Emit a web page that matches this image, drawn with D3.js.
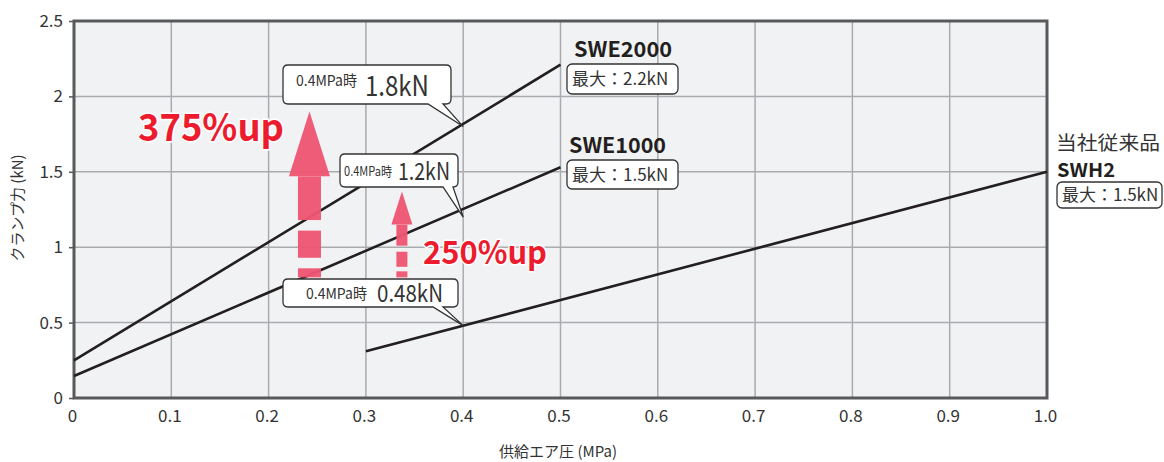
<!DOCTYPE html>
<html>
<head>
<meta charset="utf-8">
<script src="https://cdn.jsdelivr.net/npm/d3@7"></script>
<style>
  body { margin: 0; background: #fff; }
  svg text { font-family: "Noto Sans CJK JP", sans-serif; fill: #333; }
</style>
</head>
<body>
<svg id="chart"></svg>
<script>
// data
var xTicks = [0, 0.1, 0.2, 0.3, 0.4, 0.5, 0.6, 0.7, 0.8, 0.9, 1.0];
var xTickLabels = ["0", "0.1", "0.2", "0.3", "0.4", "0.5", "0.6", "0.7", "0.8", "0.9", "1.0"];
var yTicks = [0, 0.5, 1, 1.5, 2, 2.5];
var yTickLabels = ["0", "0.5", "1", "1.5", "2", "2.5"];

var seriesNames = ["SWE2000", "SWE1000", "SWH2"];
var swe2000 = [[0, 0.25], [0.5, 2.21]];
var swe1000 = [[0, 0.146], [0.5, 1.53]];
var swh2    = [[0.3, 0.31], [1.0, 1.5]];
var maxLabels = ["最大：2.2kN", "最大：1.5kN", "最大：1.5kN"];

var calloutPressure = 0.4;
var calloutValues = [1.8, 1.2, 0.48];
var calloutLabels = ["1.8kN", "1.2kN", "0.48kN"];

var upLabels = ["375%up", "250%up"];

// layout
var width = 1164, height = 462;
var svg = d3.select("#chart").attr("width", width).attr("height", height);

var x = d3.scaleLinear().domain([0, 1]).range([74, 1047]);
var y = d3.scaleLinear().domain([0, 2.5]).range([398, 21]);

// plot background
svg.append("rect")
  .attr("x", x(0)).attr("y", y(2.5))
  .attr("width", x(1) - x(0)).attr("height", y(0) - y(2.5))
  .attr("fill", "#f1f2f4");

// grid
var grid = svg.append("g").attr("stroke", "#a9abae").attr("stroke-width", 1.5);
grid.selectAll(".vg").data(xTicks.slice(1, -1)).enter().append("line")
  .attr("x1", function (d) { return x(d); }).attr("x2", function (d) { return x(d); })
  .attr("y1", y(0)).attr("y2", y(2.5));
grid.selectAll(".hg").data(yTicks.slice(1, -1)).enter().append("line")
  .attr("y1", function (d) { return y(d); }).attr("y2", function (d) { return y(d); })
  .attr("x1", x(0)).attr("x2", x(1));

// axes
var xAxisG = svg.append("g").attr("transform", "translate(-2," + y(0) + ")")
  .call(d3.axisBottom(x).tickValues(xTicks).tickSize(0).tickPadding(12)
    .tickFormat(function (d, i) { return xTickLabels[i]; }));
var yAxisG = svg.append("g").attr("transform", "translate(" + x(0) + ",0)")
  .call(d3.axisLeft(y).tickValues(yTicks).tickSize(5).tickPadding(6)
    .tickFormat(function (d, i) { return yTickLabels[i]; }));
[xAxisG, yAxisG].forEach(function (g) {
  g.select(".domain").remove();
  g.selectAll("text").style("font-size", "17px").attr("fill", "#333");
  g.selectAll("line").attr("stroke", "#555").attr("stroke-width", 1.5);
});

// frame
svg.append("rect")
  .attr("x", x(0)).attr("y", y(2.5))
  .attr("width", x(1) - x(0)).attr("height", y(0) - y(2.5))
  .attr("fill", "none").attr("stroke", "#58595b").attr("stroke-width", 3);

// axis titles
svg.append("text")
  .attr("transform", "translate(23,208) rotate(-90)")
  .attr("text-anchor", "middle").style("font-size", "15px")
  .text("クランプ力 (kN)");
svg.append("text")
  .attr("x", 558).attr("y", 457)
  .attr("text-anchor", "middle").style("font-size", "15px")
  .text("供給エア圧 (MPa)");

// series lines
var line = d3.line().x(function (d) { return x(d[0]); }).y(function (d) { return y(d[1]); });
svg.selectAll(".series").data([swe2000, swe1000, swh2]).enter().append("path")
  .attr("d", line).attr("fill", "none")
  .attr("stroke", "#231f20").attr("stroke-width", 2.6);

// up arrows (drawn before callouts so the boxes sit on top)
var arrows = [
  { cx: 0.242, to: 1.90, head: 0.43, headW: 41, shaftW: 23,
    segs: [[0.80, 0.86], [0.93, 1.11], [1.18, 1.47]] },
  { cx: 0.337, to: 1.37, head: 0.22, headW: 21, shaftW: 11,
    segs: [[0.80, 0.84], [0.87, 0.97], [1.01, 1.15]] }
];
arrows.forEach(function (a) {
  var cx = x(a.cx);
  var g = svg.append("g").attr("fill", "#ef5672").attr("opacity", 0.96);
  g.selectAll("rect").data(a.segs).enter().append("rect")
    .attr("x", cx - a.shaftW / 2).attr("width", a.shaftW)
    .attr("y", function (d) { return y(d[1]); })
    .attr("height", function (d) { return y(d[0]) - y(d[1]); });
  var base = y(a.to - a.head);
  g.append("path").attr("d",
    "M" + cx + "," + y(a.to) +
    "L" + (cx + a.headW / 2) + "," + base +
    "L" + (cx - a.headW / 2) + "," + base + "Z");
});

// "%up" texts
var upPos = [[138, 141, 38, 146], [423, 264, 32, 124]];
upLabels.forEach(function (t, i) {
  svg.append("text")
    .attr("x", upPos[i][0]).attr("y", upPos[i][1])
    .style("font-weight", "bold").style("font-size", upPos[i][2] + "px")
    .style("fill", "#ec1c2e")
    .attr("textLength", upPos[i][3]).attr("lengthAdjust", "spacingAndGlyphs")
    .attr("stroke", "#fff").attr("stroke-width", 3).attr("paint-order", "stroke")
    .text(t);
});

// callout boxes with pointer tails
function calloutPath(b, tip) {
  var r = 5;
  return "M" + (b.x0 + r) + "," + b.y0 +
    "H" + (b.x1 - r) + "Q" + b.x1 + "," + b.y0 + " " + b.x1 + "," + (b.y0 + r) +
    "V" + (b.y1 - r) + "Q" + b.x1 + "," + b.y1 + " " + (b.x1 - r) + "," + b.y1 +
    "H" + b.tb + "L" + tip[0] + "," + tip[1] + "L" + b.ta + "," + b.y1 +
    "H" + (b.x0 + r) + "Q" + b.x0 + "," + b.y1 + " " + b.x0 + "," + (b.y1 - r) +
    "V" + (b.y0 + r) + "Q" + b.x0 + "," + b.y0 + " " + (b.x0 + r) + "," + b.y0 + "Z";
}
var calloutBoxes = [
  { x0: 283, x1: 451, y0: 65, y1: 104, ta: 428, tb: 443,
    sx: 296, sy: 86, ss: 15, sw: 61, bx: 365, by: 96, bs: 28, bw: 64 },
  { x0: 340, x1: 458, y0: 154, y1: 187, ta: 443, tb: 453,
    sx: 344, sy: 176, ss: 13, sw: 48, bx: 398, by: 180, bs: 24, bw: 52 },
  { x0: 283, x1: 458, y0: 279, y1: 307, ta: 433, tb: 443,
    sx: 306, sy: 299, ss: 15, sw: 61, bx: 377, by: 302, bs: 24, bw: 66 }
];
calloutValues.forEach(function (v, i) {
  var b = calloutBoxes[i];
  var tip = [x(calloutPressure), y(v)];
  svg.append("path").attr("d", calloutPath(b, tip))
    .attr("fill", "#fff").attr("stroke", "#333").attr("stroke-width", 1.3);
  svg.append("text").attr("x", b.sx).attr("y", b.sy)
    .attr("textLength", b.sw).attr("lengthAdjust", "spacingAndGlyphs")
    .style("font-size", b.ss + "px").text("0.4MPa時");
  svg.append("text").attr("x", b.bx).attr("y", b.by)
    .attr("textLength", b.bw).attr("lengthAdjust", "spacingAndGlyphs")
    .style("font-size", b.bs + "px").text(calloutLabels[i]);
});

// series name labels with max boxes
var nameLayout = [
  { nx: 574, ny: 57, nw: 98, fs: 21, bx0: 567, bx1: 678, by0: 64, by1: 94 },
  { nx: 569, ny: 153, nw: 97, fs: 21, bx0: 567, bx1: 678, by0: 160, by1: 189 },
  { nx: 1057, ny: 177, nw: 58, fs: 19, bx0: 1057, bx1: 1162, by0: 182, by1: 208 }
];
seriesNames.forEach(function (n, i) {
  var l = nameLayout[i];
  svg.append("text").attr("x", l.nx).attr("y", l.ny)
    .style("font-weight", "bold").style("font-size", l.fs + "px").style("fill", "#231f20")
    .attr("textLength", l.nw).attr("lengthAdjust", "spacingAndGlyphs")
    .text(n);
  svg.append("rect").attr("x", l.bx0).attr("y", l.by0)
    .attr("width", l.bx1 - l.bx0).attr("height", l.by1 - l.by0)
    .attr("rx", 5).attr("fill", "#fff").attr("stroke", "#333").attr("stroke-width", 1.3);
  svg.append("text").attr("x", l.bx0 + 5).attr("y", (l.by0 + l.by1) / 2 + 6)
    .style("font-size", "17px").text(maxLabels[i]);
});
svg.append("text")
  .attr("x", 1056).attr("y", 150).style("font-size", "19px")
  .attr("textLength", 104).attr("lengthAdjust", "spacingAndGlyphs")
  .text("当社従来品");
</script>
</body>
</html>
